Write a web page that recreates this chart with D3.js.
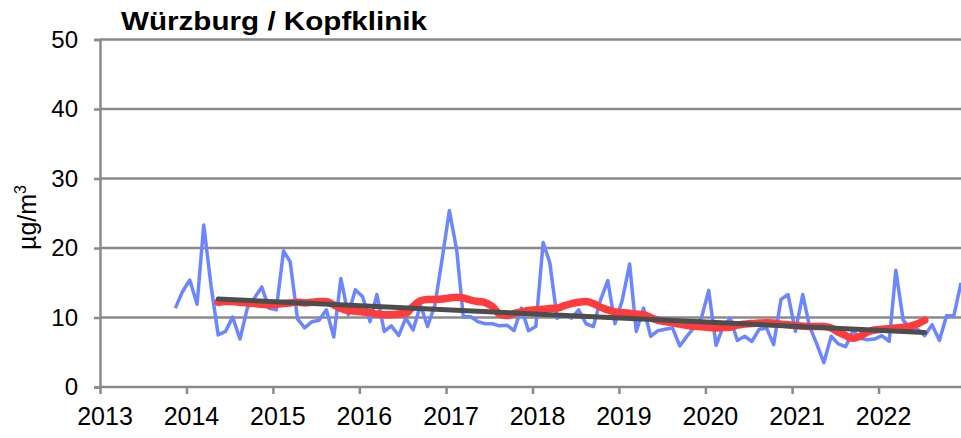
<!DOCTYPE html>
<html lang="de">
<meta charset="utf-8">
<script src="https://cdn.jsdelivr.net/npm/d3@7"></script>
<style>
  body { margin: 0; background: #fff; }
  text { font-family: "Liberation Sans", Arial, sans-serif; fill: #000; }
  .grid line, .axis line, .axis path { stroke: #8a8a8a; stroke-width: 2.5px; }
</style>
<body>
<script>
// monthly means, first value = Nov 2013
var monthlyStart = "2013-11";
var monthly = [
  11.35, 13.7,
  15.4, 11.9, 23.3, 14.5, 7.5, 8.0, 10.05, 6.9, 11.35, 12.8, 14.4, 11.35,
  11.1, 19.6, 18.0, 9.8, 8.5, 9.4, 9.6, 11.1, 7.2, 15.6, 10.4, 14.0,
  13.0, 9.4, 13.3, 8.0, 8.8, 7.4, 9.9, 8.2, 11.8, 8.7, 11.8, 18.3,
  25.4, 19.7, 10.1, 10.1, 9.4, 9.1, 9.1, 8.8, 8.9, 8.1, 11.35, 8.1,
  8.7, 20.8, 17.9, 9.9, 10.4, 9.9, 11.1, 9.1, 8.7, 12.5, 15.3, 9.1,
  12.5, 17.7, 8.0, 11.35, 7.3, 8.1, 8.3, 8.5, 5.9, 7.3, 8.6, 9.9,
  13.9, 6.0, 8.6, 9.9, 6.7, 7.3, 6.55, 8.3, 8.5, 6.1, 12.6, 13.3,
  8.0, 13.3, 8.8, 6.2, 3.5, 7.3, 6.2, 5.8, 8.1, 7.0, 6.8, 6.9,
  7.4, 6.55, 16.8, 9.6, 8.5, 8.3, 7.4, 8.95, 6.7, 10.25, 10.25, 15.0
];

// running mean as drawn (red), first value = May 2014
var runningStart = "2014-05";
var running = [
  12.2, 12.3, 12.3, 12.2, 12.1, 12.0, 11.9, 11.8,
  11.9, 12.0, 12.1, 12.2, 12.1, 12.2, 12.3, 12.3, 11.8, 11.3, 11.0, 10.9,
  10.8, 10.7, 10.5, 10.4, 10.4, 10.5, 10.6, 11.6, 12.4, 12.6, 12.6, 12.65,
  12.8, 12.9, 12.8, 12.5, 12.3, 12.15, 11.6, 10.5, 10.3, 10.6, 10.8, 11.0,
  11.1, 11.2, 11.3, 11.35, 11.7, 12.0, 12.2, 12.3, 12.0, 11.5, 11.1, 10.8,
  10.7, 10.6, 10.5, 10.4, 10.0, 9.6, 9.4, 9.25, 9.05, 8.85, 8.75, 8.65,
  8.55, 8.5, 8.55, 8.6, 8.9, 9.05, 9.15, 9.2, 9.25, 9.2, 9.05, 8.95,
  8.85, 8.75, 8.7, 8.7, 8.7, 8.5, 7.9, 7.4, 7.0, 7.3, 7.9, 8.2,
  8.3, 8.4, 8.5, 8.6, 8.75, 9.1, 9.6
];

// linear trend end points
var trendDates = ["2014-05", "2022-07"];
var trendValues = [12.65, 7.85];

var yTicks = [0, 10, 20, 30, 40, 50];
var yearTicks = [2013, 2014, 2015, 2016, 2017, 2018, 2019, 2020, 2021, 2022];
var title = "Würzburg / Kopfklinik";

var W = 961, H = 438;
var parseMonth = d3.timeParse("%Y-%m");
function midMonth(d) { return d3.timeDay.offset(d, 14); }
function series(start, vals) {
  var s = parseMonth(start);
  return vals.map(function(v, i) { return { date: midMonth(d3.timeMonth.offset(s, i)), value: v }; });
}

var svg = d3.select("body").append("svg")
  .attr("width", W).attr("height", H);

var x = d3.scaleTime()
  .domain([new Date(2013, 0, 1), new Date(2023, 0, 1)])
  .range([100, 965]);
var y = d3.scaleLinear().domain([0, 50]).range([387, 39.5]);

// horizontal grid
svg.append("g").attr("class", "grid")
  .selectAll("line").data(yTicks.slice(1)).enter().append("line")
  .attr("x1", 100).attr("x2", W)
  .attr("y1", function(d) { return y(d); }).attr("y2", function(d) { return y(d); });

// y axis
var yAxis = svg.append("g").attr("class", "axis")
  .attr("transform", "translate(100,0)")
  .call(d3.axisLeft(y).tickValues(yTicks).tickSizeOuter(0).tickSize(6).tickPadding(16));
yAxis.selectAll("text").style("font-size", "24px");

// x axis
var xAxis = svg.append("g").attr("class", "axis")
  .attr("transform", "translate(0," + y(0) + ")")
  .call(d3.axisBottom(x)
    .tickValues(yearTicks.map(function(t) { return new Date(t, 0, 1); }))
    .tickFormat(d3.timeFormat("%Y"))
    .tickSizeOuter(0).tickSize(7).tickPadding(13));
xAxis.select(".domain").attr("d", "M100,0H" + W);
xAxis.selectAll("text").style("font-size", "25px").attr("dx", 4.5);

var line = d3.line()
  .x(function(d) { return x(d.date); })
  .y(function(d) { return y(d.value); });

svg.append("path")
  .datum(series(monthlyStart, monthly))
  .attr("d", line)
  .attr("fill", "none").attr("stroke", "#6b86ff")
  .attr("stroke-width", 3.5).attr("stroke-linejoin", "round");

svg.append("path")
  .datum(series(runningStart, running))
  .attr("d", line.curve(d3.curveMonotoneX))
  .attr("fill", "none").attr("stroke", "#ff3c3c")
  .attr("stroke-width", 7.5).attr("stroke-linecap", "round").attr("stroke-linejoin", "round");

var trend = trendDates.map(function(d, i) { return { date: midMonth(parseMonth(d)), value: trendValues[i] }; });
svg.append("path")
  .datum(trend)
  .attr("d", d3.line().x(function(d) { return x(d.date); }).y(function(d) { return y(d.value); }))
  .attr("fill", "none").attr("stroke", "#4d4d4d")
  .attr("stroke-width", 5).attr("stroke-linecap", "round");

// y title
var yt = svg.append("text")
  .attr("transform", "translate(36,250) rotate(-90)")
  .style("font-size", "25px");
yt.append("tspan").text("µg/m");
yt.append("tspan").attr("dy", -10).style("font-size", "16px").text("3");

// title
svg.append("text")
  .attr("x", 121).attr("y", 30)
  .attr("textLength", 306).attr("lengthAdjust", "spacingAndGlyphs")
  .style("font-size", "26px").style("font-weight", "bold")
  .text(title);
</script>
</body>
</html>
